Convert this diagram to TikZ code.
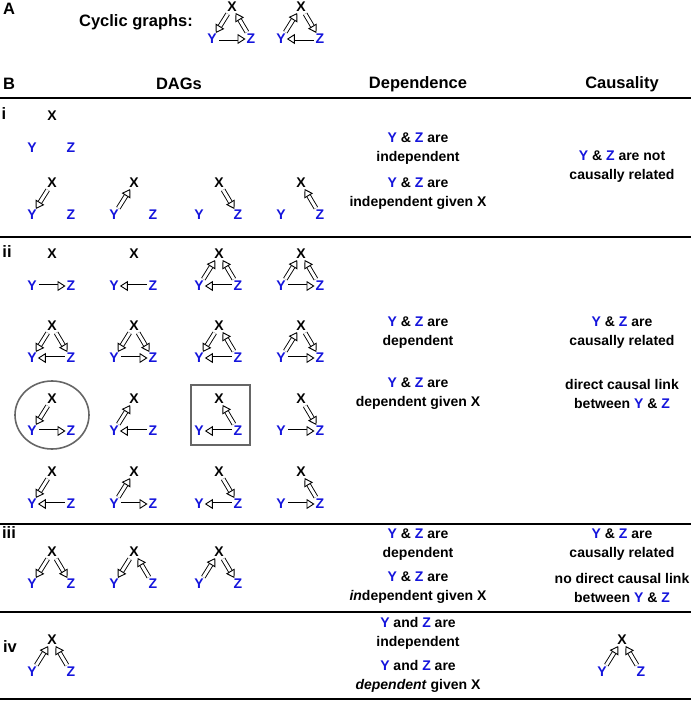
\documentclass[tikz,border=0pt]{standalone}
\usepackage{fontspec}
\setmainfont{Liberation Sans}
\usetikzlibrary{arrows.meta}
\definecolor{vblue}{RGB}{20,20,220}

\tikzset{
  every node/.style={font=\bfseries\fontsize{14}{19}\selectfont, inner sep=1pt},
  vx/.style={},
  vt/.style={text=vblue},
  head/.style={font=\bfseries\fontsize{16.5}{19}\selectfont},
  harr/.style={double=white, double distance=3pt, line width=0.9pt,
    -{Triangle[open,fill=white,length=8pt,width=10pt,line width=0.9pt]},
    shorten <=1pt, shorten >=0pt},
  txt/.style={align=center},
  rule/.style={line width=1.3pt},
}
% one triangle of X, Y and Z
\newcommand\tri[3]{%
  \node[vx] (#3x) at (#1,#2) {X};
  \node[vt] (#3y) at (#1-20,#2+32) {Y};
  \node[vt] (#3z) at (#1+19,#2+32) {Z};}
\newcommand\ed[2]{\draw[harr] (#1) -- (#2);}

\begin{document}
\begin{tikzpicture}[x=1pt,y=-1pt]
\useasboundingbox (0,0) rectangle (691,701);

% A
\node[head] (lA) at (9,9) {A};
\node[head] (cyc) at (136,22) {Cyclic graphs:};
\tri{232}{7}{ca}
\ed{cax}{cay} \ed{caz}{cax} \ed{cay}{caz}
\tri{301}{7}{cb}
\ed{cby}{cbx} \ed{cbx}{cbz} \ed{cbz}{cby}

% B headings
\node[head] (lB) at (9,84) {B};
\node[head] (hdag) at (179,84) {DAGs};
\node[head] (hdep) at (418,84) {Dependence};
\node[head] (hcau) at (622,84) {Causality};
\draw[rule] (0,98) -- (691,98);
\draw[rule] (0,237) -- (691,237);
\draw[rule] (0,524) -- (691,524);
\draw[rule] (0,612) -- (691,612);
\draw[rule] (0,699) -- (691,699);

% i
\node[head] (li) at (4,114) {i};
\tri{52}{116}{ia}
\tri{52}{183}{ib} \ed{ibx}{iby}
\tri{134}{183}{ic} \ed{icy}{icx}
\tri{219}{183}{id} \ed{idx}{idz}
\tri{301}{183}{ie} \ed{iez}{iex}
\node[txt] (di1) at (418,149) {\textcolor{vblue}{Y} \& \textcolor{vblue}{Z} are\\independent};
\node[txt] (di2) at (418,194) {\textcolor{vblue}{Y} \& \textcolor{vblue}{Z} are\\independent given X};
\node[txt] (ci1) at (622,167) {\textcolor{vblue}{Y} \& \textcolor{vblue}{Z} are not\\causally related};

% ii
\node[head] (lii) at (7,252) {ii};
\tri{52}{254}{a1} \ed{a1y}{a1z}
\tri{134}{254}{a2} \ed{a2z}{a2y}
\tri{219}{254}{a3} \ed{a3y}{a3x} \ed{a3z}{a3x} \ed{a3z}{a3y}
\tri{301}{254}{a4} \ed{a4y}{a4x} \ed{a4z}{a4x} \ed{a4y}{a4z}
\tri{52}{326}{b1} \ed{b1x}{b1y} \ed{b1x}{b1z} \ed{b1z}{b1y}
\tri{134}{326}{b2} \ed{b2x}{b2y} \ed{b2x}{b2z} \ed{b2y}{b2z}
\tri{219}{326}{b3} \ed{b3x}{b3y} \ed{b3z}{b3x} \ed{b3z}{b3y}
\tri{301}{326}{b4} \ed{b4y}{b4x} \ed{b4x}{b4z} \ed{b4y}{b4z}
\tri{52}{399}{c1} \ed{c1x}{c1y} \ed{c1y}{c1z}
\tri{134}{399}{c2} \ed{c2y}{c2x} \ed{c2z}{c2y}
\tri{219}{399}{c3} \ed{c3z}{c3x} \ed{c3z}{c3y}
\tri{301}{399}{c4} \ed{c4x}{c4z} \ed{c4y}{c4z}
\tri{52}{472}{d1} \ed{d1x}{d1y} \ed{d1z}{d1y}
\tri{134}{472}{d2} \ed{d2y}{d2x} \ed{d2y}{d2z}
\tri{219}{472}{d3} \ed{d3x}{d3z} \ed{d3z}{d3y}
\tri{301}{472}{d4} \ed{d4z}{d4x} \ed{d4y}{d4z}
\draw[gray!80!black, line width=1.6pt] (52,415) ellipse[x radius=37, y radius=34];
\draw[gray!80!black, line width=1.6pt] (191,385) rectangle (250,445);
\node[txt] (dii1) at (418,333) {\textcolor{vblue}{Y} \& \textcolor{vblue}{Z} are\\dependent};
\node[txt] (dii2) at (418,394) {\textcolor{vblue}{Y} \& \textcolor{vblue}{Z} are\\dependent given X};
\node[txt] (cii1) at (622,333) {\textcolor{vblue}{Y} \& \textcolor{vblue}{Z} are\\causally related};
\node[txt] (cii2) at (622,394) {direct causal link\\between \textcolor{vblue}{Y} \& \textcolor{vblue}{Z}};

% iii
\node[head] (liii) at (9,533) {iii};
\tri{52}{552}{e1} \ed{e1x}{e1y} \ed{e1x}{e1z}
\tri{134}{552}{e2} \ed{e2x}{e2y} \ed{e2z}{e2x}
\tri{219}{552}{e3} \ed{e3y}{e3x} \ed{e3x}{e3z}
\node[txt] (diii1) at (418,545) {\textcolor{vblue}{Y} \& \textcolor{vblue}{Z} are\\dependent};
\node[txt] (diii2) at (418,588) {\textcolor{vblue}{Y} \& \textcolor{vblue}{Z} are\\\textit{in}dependent given X};
\node[txt] (ciii1) at (622,545) {\textcolor{vblue}{Y} \& \textcolor{vblue}{Z} are\\causally related};
\node[txt] (ciii2) at (622,588) {no direct causal link\\between \textcolor{vblue}{Y} \& \textcolor{vblue}{Z}};

% iv
\node[head] (liv) at (10,647) {iv};
\tri{52}{640}{f1} \ed{f1y}{f1x} \ed{f1z}{f1x}
\tri{622}{640}{f2} \ed{f2y}{f2x} \ed{f2z}{f2x}
\node[txt] (div1) at (418,633) {\textcolor{vblue}{Y} and \textcolor{vblue}{Z} are\\independent};
\node[txt] (div2) at (418,676) {\textcolor{vblue}{Y} and \textcolor{vblue}{Z} are\\\textit{dependent} given X};
\end{tikzpicture}
\end{document}
